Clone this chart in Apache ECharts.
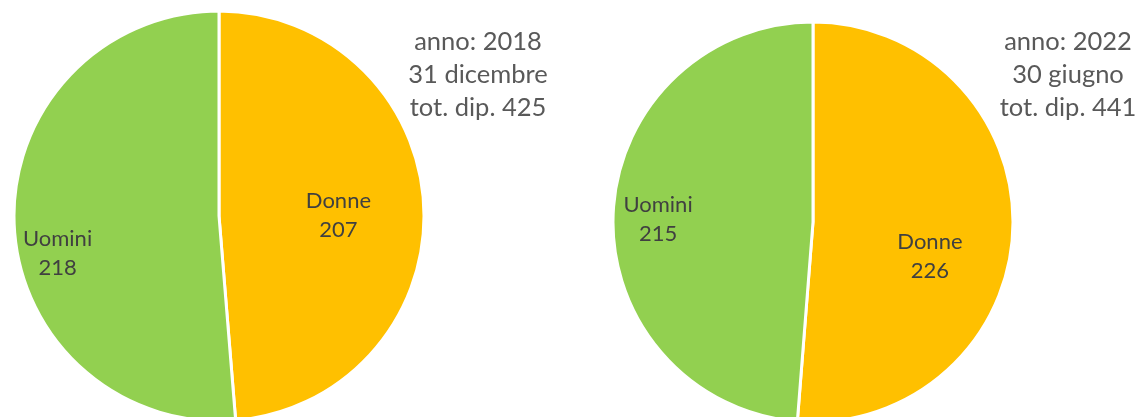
<!DOCTYPE html>
<html>
<head>
<meta charset="utf-8">
<script src="https://cdn.jsdelivr.net/npm/echarts@6/dist/echarts.min.js"></script>
<style>
  html, body { margin: 0; padding: 0; background: #fff; }
  #chart { width: 1139px; height: 417px; }
</style>
</head>
<body>
<div id="chart"></div>
<script>
// dati
var categories = ['Donne', 'Uomini'];
var values2018 = [207, 218];
var values2022 = [226, 215];
var note2018 = ['anno: 2018', '31 dicembre', 'tot. dip. 425'];
var note2022 = ['anno: 2022', '30 giugno', 'tot. dip. 441'];
var colors = ['#FFC000', '#92D050'];

var FONT = 'Lato, "Open Sans", sans-serif';

function makeData(vals) {
  var out = [];
  for (var i in categories) {
    out.push({ name: categories[i], value: vals[i] });
  }
  return out;
}

function pieSeries(vals, center, radius, shifts) {
  return {
    type: 'pie',
    center: center,
    radius: radius,
    startAngle: 90,
    clockwise: true,
    silent: true,
    animation: false,
    color: colors,
    itemStyle: { borderColor: '#fff', borderWidth: 3 },
    label: {
      show: true,
      position: 'inside',
      formatter: '{b}\n{c}',
      color: '#404040',
      fontFamily: FONT,
      fontSize: 22,
      lineHeight: 29,
      align: 'center'
    },
    labelLine: { show: false },
    labelLayout: function (p) {
      return { dx: shifts[p.dataIndex][0], dy: shifts[p.dataIndex][1] };
    },
    data: makeData(vals)
  };
}

var option = {
  backgroundColor: '#fff',
  title: [
    {
      text: note2018.join('\n'),
      left: 478, top: 25, padding: 0,
      textAlign: 'center',
      textStyle: { fontFamily: FONT, fontSize: 25.5, lineHeight: 33, fontWeight: 'normal', color: '#595959', align: 'center' }
    },
    {
      text: note2022.join('\n'),
      left: 1068, top: 25, padding: 0,
      textAlign: 'center',
      textStyle: { fontFamily: FONT, fontSize: 25.5, lineHeight: 33, fontWeight: 'normal', color: '#595959', align: 'center' }
    }
  ],
  series: [
    pieSeries(values2018, [219, 216], 205, [[14, 4], [-56, 33]]),
    pieSeries(values2022, [813, 222], 200, [[14, 30], [-52, 1]])
  ]
};

var myChart = echarts.init(document.getElementById('chart'));
myChart.setOption(option);
</script>
</body>
</html>
